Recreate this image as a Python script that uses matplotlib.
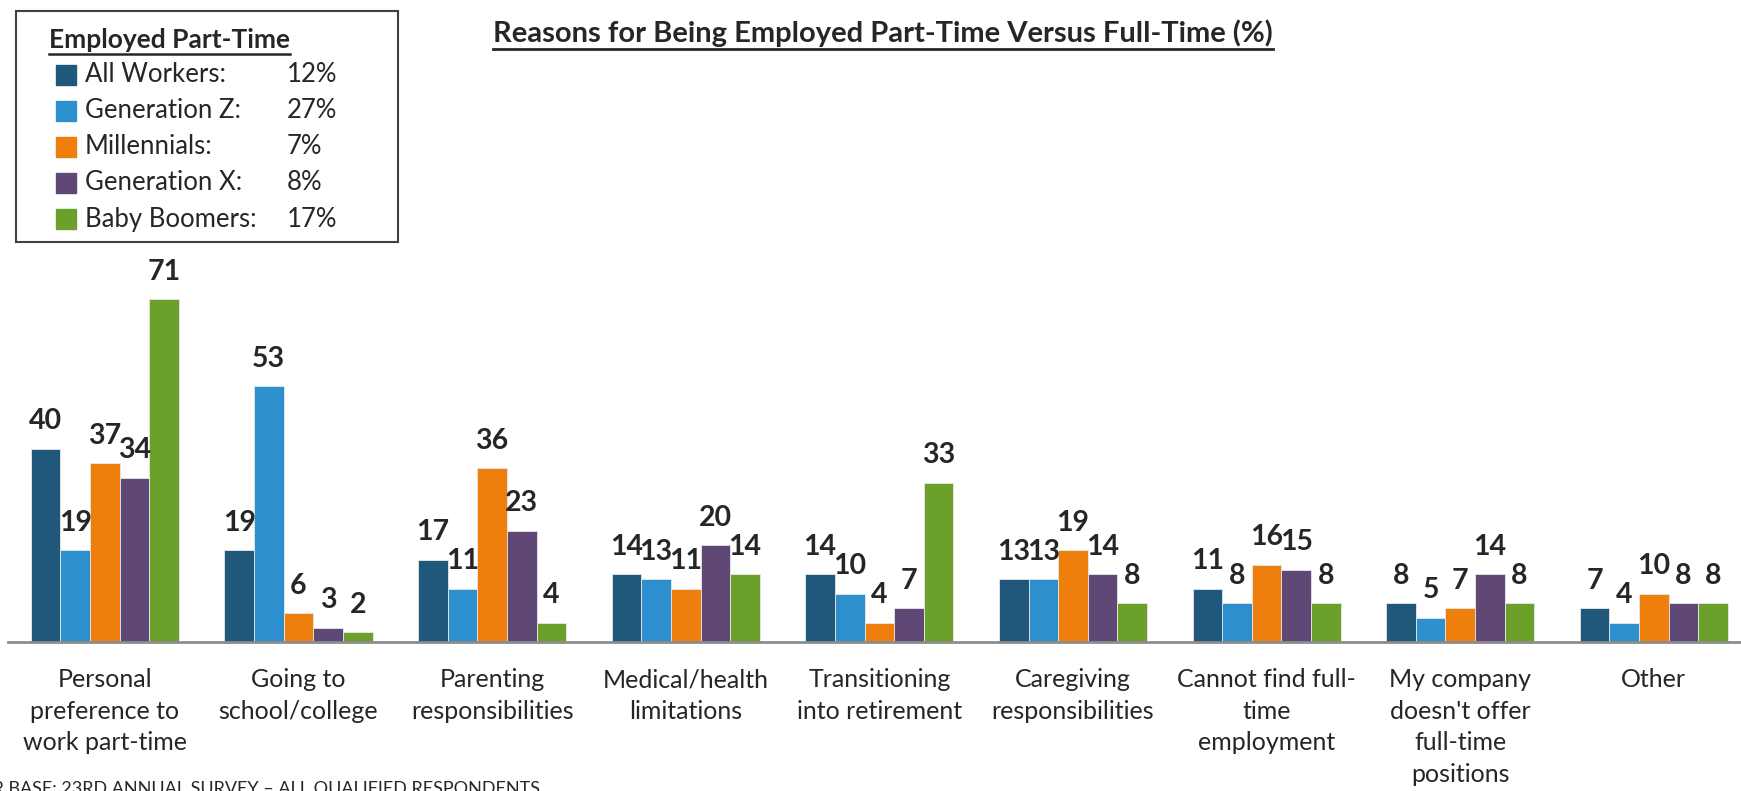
import matplotlib
matplotlib.use("Agg")
import matplotlib.pyplot as plt
import numpy as np
from matplotlib.patches import Rectangle
from matplotlib.lines import Line2D

plt.rcParams['font.family'] = ['Lato', 'DejaVu Sans']

# === DATA ===
categories = [
    "Personal\npreference to\nwork part-time",
    "Going to\nschool/college",
    "Parenting\nresponsibilities",
    "Medical/health\nlimitations",
    "Transitioning\ninto retirement",
    "Caregiving\nresponsibilities",
    "Cannot find full-\ntime\nemployment",
    "My company\ndoesn't offer\nfull-time\npositions",
    "Other",
]
series_names = ["All Workers:", "Generation Z:", "Millennials:", "Generation X:", "Baby Boomers:"]
part_time_pct = ["12%", "27%", "7%", "8%", "17%"]
all_workers = [40, 19, 17, 14, 14, 13, 11, 8, 7]
gen_z = [19, 53, 11, 13, 10, 13, 8, 5, 4]
millennials = [37, 6, 36, 11, 4, 19, 16, 7, 10]
gen_x = [34, 3, 23, 20, 7, 14, 15, 14, 8]
boomers = [71, 2, 4, 14, 33, 8, 8, 8, 8]
series = [all_workers, gen_z, millennials, gen_x, boomers]
colors = ['#1F587B', '#2E8FCE', '#EF7F0D', '#5F4876', '#6BA02A']

W, H = 1741, 791
fig = plt.figure(figsize=(W / 100, H / 100), dpi=100)


def fx(px):
    return px / W


def fy(py):
    return 1 - py / H


# axes: baseline at y=642px, 4.83 px per unit
ymax = 80
ax = fig.add_axes([fx(8), fy(642), 1 - fx(8), ymax * 4.83 / H])
x = np.arange(len(categories))
bw = 0.153
for i, (vals, col) in enumerate(zip(series, colors)):
    pos = x + (i - 2) * bw
    ax.bar(pos, vals, bw, color=col, edgecolor='#e8e8e8', linewidth=0.6, zorder=2)
    for p, v in zip(pos, vals):
        ax.annotate(str(v), (p, v), xytext=(0, 14), textcoords='offset points',
                    ha='center', va='baseline', fontsize=20.5, fontweight='bold', color='#262626')

ax.set_xlim(-0.5, 8.45)
ax.set_ylim(0, ymax)
for s in ['top', 'left', 'right']:
    ax.spines[s].set_visible(False)
ax.spines['bottom'].set_color('#8c8c8c')
ax.spines['bottom'].set_linewidth(2)
ax.set_yticks([])
ax.set_xticks(x)
ax.set_xticklabels(categories, fontsize=18, color='#262626', linespacing=1.45)
ax.tick_params(axis='x', length=0, pad=19)

# title
title = fig.text(fx(883), fy(33), "Reasons for Being Employed Part-Time Versus Full-Time (%)",
                 ha='center', va='center', fontsize=21, fontweight='bold', color='#262626')

# legend box
fig.patches.append(Rectangle((fx(16), fy(242)), fx(398) - fx(16), fy(11) - fy(242),
                             transform=fig.transFigure, fill=False, edgecolor='#404040', linewidth=1.5))
leg_title = fig.text(fx(49), fy(40), "Employed Part-Time", ha='left', va='center',
                     fontsize=19, fontweight='bold', color='#262626')
for i, (name, pct, col) in enumerate(zip(series_names, part_time_pct, colors)):
    yc = 75 + i * 36
    fig.patches.append(Rectangle((fx(56), fy(yc + 10)), fx(20), 20 / H,
                                 transform=fig.transFigure, color=col))
    fig.text(fx(85), fy(yc), name, ha='left', va='center', fontsize=18.5, color='#262626')
    fig.text(fx(287), fy(yc), pct, ha='left', va='center', fontsize=18.5, color='#262626')

# footnote (cut off at the edge in the source)
fig.text(fx(540), fy(781), "WORKER BASE: 23RD ANNUAL SURVEY \u2013 ALL QUALIFIED RESPONDENTS",
         ha='right', va='top', fontsize=13, color='#262626')

# underlines
fig.canvas.draw()
r = fig.canvas.get_renderer()
for t, lw in [(title, 2), (leg_title, 1.8)]:
    bb = t.get_window_extent(r)
    yy = bb.y0 - 2
    fig.lines.append(Line2D([bb.x0 / W, bb.x1 / W], [yy / H, yy / H],
                            transform=fig.transFigure, color='#262626', linewidth=lw))

fig.savefig("out.png", dpi=100)
